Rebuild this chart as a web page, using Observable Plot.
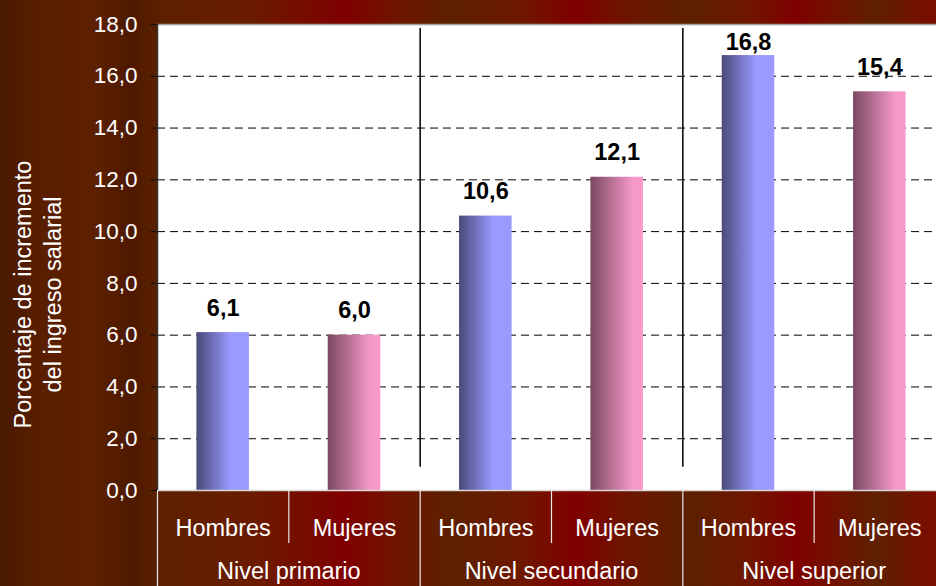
<!DOCTYPE html>
<html>
<head>
<meta charset="utf-8">
<script src="https://cdn.jsdelivr.net/npm/d3@7"></script>
<script src="https://cdn.jsdelivr.net/npm/@observablehq/plot@0.6"></script>
<style>
  html, body { margin: 0; padding: 0; }
  body {
    width: 936px; height: 586px; overflow: hidden;
    background: linear-gradient(to right,
      #4a1800 0px, #5a1f00 45px, #5d2000 95px, #4e1900 130px, #5e2000 165px,
      #6a1c00 250px, #800000 345px, #6e1600 400px, #5c2000 450px,
      #6e1800 520px, #800000 575px, #6c1600 630px, #5c2000 690px,
      #701600 750px, #800000 795px, #741000 830px, #5e2000 875px, #7c0c00 936px);
  }
  #chart svg { display: block; }
</style>
</head>
<body>
<svg width="0" height="0" style="position:absolute">
  <defs>
    <linearGradient id="gradH" x1="0" x2="1" y1="0" y2="0">
      <stop offset="0" stop-color="#4a4a7a"/>
      <stop offset="0.65" stop-color="#9999ff"/>
      <stop offset="1" stop-color="#9999ff"/>
    </linearGradient>
    <linearGradient id="gradM" x1="0" x2="1" y1="0" y2="0">
      <stop offset="0" stop-color="#7a4860"/>
      <stop offset="0.8" stop-color="#f598ca"/>
      <stop offset="1" stop-color="#fa99cc"/>
    </linearGradient>
  </defs>
</svg>
<div id="chart"></div>
<script>
const groups = ["Nivel primario", "Nivel secundario", "Nivel superior"];
const sexes = ["Hombres", "Mujeres"];
const hombres = [6.1, 10.6, 16.8];
const mujeres = [6.0, 12.1, 15.4];
const yTicks = [0, 2, 4, 6, 8, 10, 12, 14, 16, 18];
const yTitle = ["Porcentaje de incremento", "del ingreso salarial"];

const fmt = v => v.toFixed(1).replace(".", ",");

const rows = [];
groups.forEach((g, gi) => {
  sexes.forEach((s, si) => {
    rows.push({group: g, sex: s, value: si === 0 ? hombres[gi] : mujeres[gi], slot: gi * sexes.length + si});
  });
});
const boundaries = d3.range(0, rows.length + 1).map(i => ({pos: i, full: i % sexes.length === 0}));

const chart = Plot.plot({
  width: 936,
  height: 586,
  marginLeft: 157,
  marginRight: 0,
  marginTop: 24,
  marginBottom: 96,
  style: {fontFamily: "'Liberation Sans', Arial, sans-serif", background: "transparent", overflow: "visible"},
  x: {domain: [0, rows.length], range: [157, 945], axis: null},
  y: {domain: [0, 18], axis: null},
  marks: [
    Plot.frame({fill: "white", stroke: null}),
    Plot.gridY(yTicks.filter(t => t > 0 && t < 18), {stroke: "#000", strokeOpacity: 1, strokeDasharray: "8,5"}),
    Plot.ruleY([18], {stroke: "#a0a0a0", strokeWidth: 1.5}),
    Plot.ruleX(boundaries.filter(d => d.full && d.pos > 0 && d.pos < rows.length), {x: "pos", y1: 0.9, y2: 17.85, stroke: "#000", strokeWidth: 1.5}),
    Plot.rectY(rows.filter(d => d.sex === "Hombres"), {x1: d => d.slot + 0.3, x2: d => d.slot + 0.7, y1: 0, y2: "value", fill: "url(#gradH)"}),
    Plot.rectY(rows.filter(d => d.sex === "Mujeres"), {x1: d => d.slot + 0.3, x2: d => d.slot + 0.7, y1: 0, y2: "value", fill: "url(#gradM)"}),
    Plot.text(rows, {x: d => d.slot + 0.5, y: d => Math.min(d.value, 16.37), text: d => fmt(d.value), dy: -17, lineAnchor: "bottom", fontWeight: "bold", fontSize: 23.5, fill: "#000"}),
    // category table below the plot
    Plot.ruleY([0], {stroke: "#d8d8d8", strokeWidth: 1.5}),
    Plot.ruleX(boundaries.filter(d => d.pos < rows.length), {x: "pos", y1: 0, y2: d => d.full ? -3.8 : -2.05, stroke: "#e8e8e8", strokeWidth: 1.2}),
    Plot.ruleX([0], {stroke: "#333", strokeWidth: 1.5}),
    Plot.text(rows, {x: d => d.slot + 0.5, y: 0, text: "sex", dy: 45, lineAnchor: "bottom", fill: "white", fontSize: 23.5}),
    Plot.text(groups, {x: (d, i) => i * sexes.length + 1, y: 0, text: d => d, dy: 88, lineAnchor: "bottom", fill: "white", fontSize: 23.5}),
    // y axis
    Plot.axisY({ticks: yTicks, tickFormat: fmt, tickSize: 7, tickPadding: 13, stroke: "#111", color: "white", fontSize: 22.5, label: null}),
    Plot.text([yTitle.join("\n")], {frameAnchor: "left", rotate: -90, dx: -121, dy: 37, textAnchor: "middle", lineAnchor: "middle", lineHeight: 1.25, fill: "white", fontSize: 23.5})
  ]
});
document.getElementById("chart").appendChild(chart);
</script>
</body>
</html>
